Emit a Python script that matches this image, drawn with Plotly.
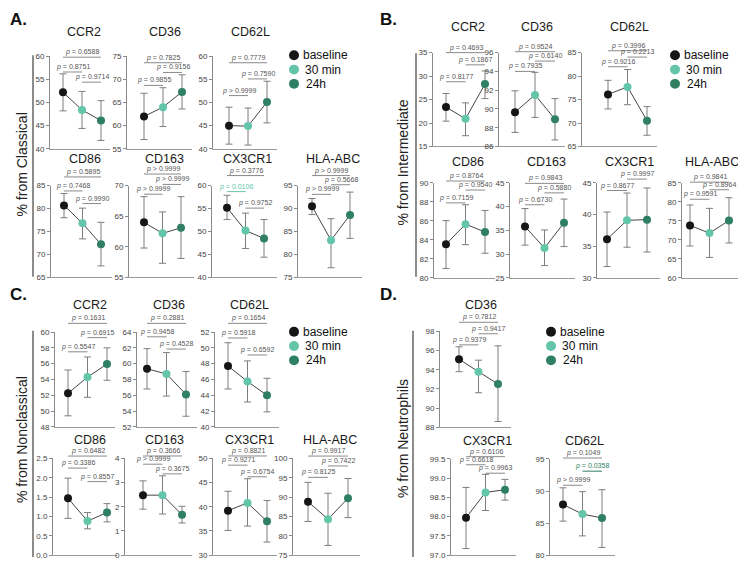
import plotly.graph_objects as go

W, H = 746, 567          # size of the browser window the figure is laid out for
PAD = 8                  # default body margin of the page
FW, FH = W - PAD, H - PAD
FONT = "Liberation Sans, Arial, sans-serif"

TIMEPOINTS = ["baseline", "30 min", "24h"]
POINT_COLORS = ["#161616", "#63c6aa", "#2f7f62"]
PAIRS = [(0, 1), (1, 2), (0, 2)]   # order of the p-value comparisons

# ---------------- data ----------------
# A. classical monocytes
A_MARKERS = ["CCR2", "CD36", "CD62L", "CD86", "CD163", "CX3CR1", "HLA-ABC"]
A_MEAN = [[52.2, 48.4, 46.1], [62.0, 64.0, 67.3], [45.0, 44.9, 50.1],
          [80.7, 76.8, 72.2], [64.0, 62.2, 63.1], [55.2, 50.2, 48.5], [90.5, 83.1, 88.6]]
A_UPPER = [[56.2, 52.4, 50.4], [67.0, 68.2, 71.0], [49.0, 48.8, 54.6],
           [83.3, 80.1, 77.0], [68.2, 65.7, 68.2], [57.9, 54.0, 52.6], [92.2, 87.8, 93.6]]
A_LOWER = [[48.2, 44.4, 41.8], [57.0, 59.8, 63.6], [41.0, 40.8, 45.6],
           [78.0, 73.4, 67.5], [59.8, 57.3, 58.1], [52.6, 46.3, 44.4], [88.7, 77.1, 83.5]]
A_P = [["0.8751", "0.9714", "0.6588"], ["0.9855", "0.9156", "0.7825"], [">0.9999", "0.7590", "0.7779"],
       ["0.7468", "0.9990", "0.5895"], [">0.9999", ">0.9999", ">0.9999"], ["0.0106", "0.9752", "0.3776"],
       [">0.9999", "0.5668", ">0.9999"]]

# B. intermediate monocytes
B_MARKERS = ["CCR2", "CD36", "CD62L", "CD86", "CD163", "CX3CR1", "HLA-ABC"]
B_MEAN = [[23.4, 20.9, 28.3], [89.66, 91.5, 88.9], [76.1, 77.7, 70.5],
          [83.55, 85.66, 84.83], [35.8, 31.3, 36.6], [36.1, 39.1, 39.2], [73.8, 71.8, 75.1]]
B_UPPER = [[26.3, 24.3, 31.1], [91.93, 93.9, 91.1], [79.1, 81.4, 73.5],
           [86.03, 87.7, 87.1], [39.6, 35.1, 41.6], [40.4, 43.4, 44.2], [79.2, 78.3, 81.1]]
B_LOWER = [[20.4, 17.3, 25.2], [87.5, 89.1, 86.7], [73.0, 73.9, 67.4],
           [81.0, 83.5, 82.6], [31.9, 27.6, 31.6], [31.8, 34.85, 34.1], [68.4, 65.4, 69.2]]
B_P = [["0.8177", "0.1867", "0.4693"], ["0.7935", "0.6140", "0.9524"], ["0.9216", "0.2213", "0.3996"],
       ["0.7159", "0.9540", "0.8764"], ["0.6730", "0.5880", "0.9843"], ["0.8677", "0.9997", None],
       ["0.9591", "0.8964", "0.9841"]]

# C. nonclassical monocytes
C_MARKERS = ["CCR2", "CD36", "CD62L", "CD86", "CD163", "CX3CR1", "HLA-ABC"]
C_MEAN = [[52.25, 54.3, 55.95], [59.35, 58.7, 56.1], [47.7, 45.75, 44.0],
          [1.47, 0.88, 1.10], [2.48, 2.48, 1.67], [39.2, 40.8, 37.0], [88.8, 84.3, 89.7]]
C_UPPER = [[55.2, 56.85, 58.0], [61.9, 61.4, 59.0], [50.65, 48.35, 46.15],
           [1.99, 1.10, 1.33], [3.07, 3.28, 2.02], [43.2, 45.8, 41.3], [93.8, 91.0, 94.8]]
C_LOWER = [[49.4, 51.75, 53.9], [56.8, 55.9, 53.35], [44.8, 43.15, 41.9],
           [0.95, 0.68, 0.86], [1.90, 1.70, 1.33], [35.1, 36.0, 32.7], [83.7, 77.5, 84.7]]
C_P = [["0.5547", "0.6915", "0.1631"], ["0.9458", "0.4528", "0.2881"], ["0.5918", "0.6592", "0.1654"],
       ["0.3386", "0.8557", "0.6482"], [">0.9999", "0.3675", "0.3666"], ["0.9271", "0.6754", "0.8821"],
       ["0.8125", "0.7422", "0.9917"]]

# D. neutrophils
D_MARKERS = ["CD36", "CX3CR1", "CD62L"]
D_MEAN = [[95.1, 93.8, 92.5], [97.97, 98.63, 98.70], [87.9, 86.4, 85.8]]
D_UPPER = [[96.4, 95.0, 96.5], [98.76, 99.1, 98.97], [90.5, 89.9, 90.2]]
D_LOWER = [[93.8, 91.6, 88.6], [97.17, 98.16, 98.43], [85.3, 83.0, 81.2]]
D_P = [["0.9379", "0.9417", "0.7812"], ["0.6618", "0.9963", "0.6106"], [">0.9999", "0.0358", "0.1049"]]

# ---------------- layout geometry (window pixels) ----------------
# (y-axis x, first point x, last point x, x-axis end, top px, bottom px, ymin, ymax, dtick, title y)
A_GEOM = [
    (50, 63, 101, 110, 53, 147, 40, 60, 5, 28),
    (127, 144, 182, 192, 53, 147, 55, 75, 5, 28),
    (213, 229, 267, 277, 53, 147, 40, 60, 5, 28),
    (51, 64, 101, 112, 184.5, 277.7, 65, 85, 5, 157.5),
    (129, 144, 181, 194, 184.5, 277.7, 55, 70, 5, 157.5),
    (212, 227, 264, 277, 184.5, 277.7, 40, 60, 5, 157.5),
    (298, 312, 350, 362, 184.5, 277.7, 75, 95, 5, 157.5),
]
B_GEOM = [
    (433, 446, 485, 494, 49.3, 144.7, 15, 35, 5, 23),
    (499, 515, 555, 565, 49.3, 144.7, 86, 96, 2, 23),
    (582, 608, 647, 657, 49.3, 144.7, 65, 85, 5, 23),
    (434, 446, 485, 495, 181.7, 278.3, 80, 90, 2, 160),
    (510, 525, 564, 575, 181.7, 278.3, 25, 45, 5, 160),
    (597, 607, 647, 660, 181.7, 278.3, 30, 45, 5, 160),
    (682, 690, 729, 743, 181.7, 278.3, 60, 85, 5, 160),
]
C_GEOM = [
    (55, 68, 107, 115, 333.3, 429.7, 48, 60, 2, 306),
    (137, 147, 186, 197, 333.3, 429.7, 52, 64, 2, 306),
    (215, 228, 267, 279, 333.3, 429.7, 40, 52, 2, 306),
    (53, 68, 107, 117, 461.7, 560, 0, 2.5, 0.5, 443),
    (125, 143, 182, 192, 461.7, 560, 0, 4, 1, 443),
    (213, 228, 267, 277, 461.7, 560, 30, 50, 5, 443),
    (293, 308, 348, 360, 461.7, 560, 75, 100, 5, 443),
]
D_GEOM = [
    (440, 459, 498, 511, 332.7, 430, 88, 98, 2, 306),
    (451, 466, 505, 516, 462.3, 560, 97, 99.5, 0.5, 444),
    (550, 563, 602, 615, 462.3, 560, 80, 95, 5, 444),
]
# height (data units) of the bracket lines, same order as PAIRS
A_BRACKET_Y = [[56.6, 54.4, 59.8], [68.7, 71.5, 73.6], [51.5, 55.1, 58.6], [83.85, 81.1, 86.9],
               [68.6, 70.2, 71.9], [58.7, 55.1, 62.2], [93.1, 95.2, 97.2]]
B_BRACKET_Y = [[28.8, 32.4, 35.0], [94.0, 95.1, 96.1], [82.0, 84.05, 85.4], [87.9, 89.25, 90.2],
               [40.4, 42.9, 44.9], [43.8, 45.6, None], [80.7, 83.2, 85.2]]
C_BRACKET_Y = [[57.5, 59.3, 61.1], [63.4, 61.85, 65.1], [51.25, 49.1, 53.1], [2.25, 1.90, 2.56],
               [3.76, 3.36, 4.1], [48.6, 46.2, 50.5], [95.1, 98.05, 100.6]]
D_BRACKET_Y = [[96.6, 97.76, 98.96], [99.35, 99.13, 99.56], [90.9, 93.1, 95.15]]

PANELS = [
    dict(label="A.", ytitle="% from Classical", markers=A_MARKERS, mean=A_MEAN, up=A_UPPER, low=A_LOWER,
         p=A_P, geom=A_GEOM, by=A_BRACKET_Y, lab_xy=(8, 16), title_xy=(22, 163), vline=(33, 52, 277),
         legend=(294, 52)),
    dict(label="B.", ytitle="% from Intermediate", markers=B_MARKERS, mean=B_MEAN, up=B_UPPER, low=B_LOWER,
         p=B_P, geom=B_GEOM, by=B_BRACKET_Y, lab_xy=(378, 16), title_xy=(403, 161), vline=(416, 50, 277),
         legend=(675, 52)),
    dict(label="C.", ytitle="% from Nonclassical", markers=C_MARKERS, mean=C_MEAN, up=C_UPPER, low=C_LOWER,
         p=C_P, geom=C_GEOM, by=C_BRACKET_Y, lab_xy=(8, 295), title_xy=(22, 443), vline=(33, 332, 562),
         legend=(294, 333)),
    dict(label="D.", ytitle="% from Neutrophils", markers=D_MARKERS, mean=D_MEAN, up=D_UPPER, low=D_LOWER,
         p=D_P, geom=D_GEOM, by=D_BRACKET_Y, lab_xy=(378, 295), title_xy=(403, 442), vline=(413, 332, 562),
         legend=(551, 333)),
]


def px(x):
    return (x - PAD) / FW


def py(y):
    return 1 - (y - PAD) / FH


fig = go.Figure()
shapes, annotations = [], []
n = 0

for panel in PANELS:
    for k, name in enumerate(panel["markers"]):
        n += 1
        sfx = "" if n == 1 else str(n)
        ax_px, p0, p2, xend, ytop, ybot, ymin, ymax, dtick, title_y = panel["geom"][k]
        sp = (p2 - p0) / 2
        xmin = -(p0 - ax_px) / sp
        xmax = 2 + (xend - p2) / sp

        mean = panel["mean"][k]
        up = [u - m for u, m in zip(panel["up"][k], mean)]
        lo = [m - l for m, l in zip(mean, panel["low"][k])]

        fig.add_trace(go.Scatter(
            x=[0, 1, 2], y=mean, xaxis="x" + sfx, yaxis="y" + sfx,
            mode="lines+markers", showlegend=False,
            line=dict(color="#454545", width=1),
            marker=dict(color=POINT_COLORS, size=8),
            error_y=dict(type="data", symmetric=False, array=up, arrayminus=lo,
                         color="#7d7d7d", thickness=1, width=3.5),
        ))

        fig.layout["xaxis" + sfx] = dict(
            domain=[px(ax_px), px(xend)], range=[xmin, xmax], anchor="y" + sfx,
            showline=True, linecolor="#9a9a9a", linewidth=1, showgrid=False,
            zeroline=False, showticklabels=False, ticks="",
        )
        fig.layout["yaxis" + sfx] = dict(
            domain=[py(ybot), py(ytop)], range=[ymin, ymax], anchor="x" + sfx,
            showline=True, linecolor="#8a8a8a", linewidth=1, showgrid=False, zeroline=False,
            ticks="outside", ticklen=3, tickwidth=1, tickcolor="#8a8a8a",
            tick0=ymin, dtick=dtick, tickformat=".1f" if dtick == 0.5 else "",
            tickfont=dict(size=8, color="#444", family=FONT),
        )

        # marker title
        annotations.append(dict(
            text=name, xref="x" + sfx, x=1, xshift=2, yref="paper", y=py(title_y),
            showarrow=False, font=dict(size=12.5, color="#1a1a1a", family=FONT),
            xanchor="center", yanchor="middle",
        ))

        # p-value brackets
        xr = "x" + sfx + " domain"
        yr = "y" + sfx + " domain"
        for (i, j), pv, level in zip(PAIRS, panel["p"][k], panel["by"][k]):
            if pv is None:
                continue
            fx0 = (i - xmin) / (xmax - xmin)
            fx1 = (j - xmin) / (xmax - xmin)
            fy = (level - ymin) / (ymax - ymin)
            sig = not pv.startswith(">") and float(pv) < 0.05
            col = POINT_COLORS[j] if sig else "#555"
            shapes.append(dict(type="line", xref=xr, yref=yr, x0=fx0, x1=fx1, y0=fy, y1=fy,
                               line=dict(color="#8a8a8a" if not sig else col, width=1)))
            txt = "<i>p</i> &gt; " + pv[1:] if pv.startswith(">") else "<i>p</i> = " + pv
            annotations.append(dict(
                text=txt, xref=xr, yref=yr, x=(fx0 + fx1) / 2, y=fy, showarrow=False,
                xanchor="center", yanchor="bottom", yshift=-1,
                font=dict(size=7, color=col, family=FONT),
            ))

    # panel letter
    lx, ly = panel["lab_xy"]
    annotations.append(dict(
        text="<b>" + panel["label"] + "</b>", xref="paper", yref="paper",
        x=px(lx), y=py(ly), showarrow=False, xanchor="left", yanchor="middle",
        font=dict(size=17, color="#111", family=FONT),
    ))
    # y title and its bar
    tx, ty = panel["title_xy"]
    annotations.append(dict(
        text=panel["ytitle"], xref="paper", yref="paper", x=px(tx), y=py(ty),
        showarrow=False, textangle=-90, xanchor="center", yanchor="middle",
        font=dict(size=14, color="#222", family=FONT),
    ))
    vx, vy0, vy1 = panel["vline"]
    shapes.append(dict(type="line", xref="paper", yref="paper", x0=px(vx), x1=px(vx),
                       y0=py(vy0), y1=py(vy1), line=dict(color="#666", width=1.5)))

    # legend
    gx, gy = panel["legend"]
    for t, (label, col) in enumerate(zip(TIMEPOINTS, POINT_COLORS)):
        cy = gy + t * 14.5
        r = 5
        shapes.append(dict(type="circle", xref="paper", yref="paper",
                           x0=px(gx - r), x1=px(gx + r), y0=py(cy + r), y1=py(cy - r),
                           fillcolor=col, line=dict(width=0)))
        annotations.append(dict(
            text=label, xref="paper", yref="paper", x=px(gx + 7 + 1.5 * t), y=py(cy),
            showarrow=False, xanchor="left", yanchor="middle",
            font=dict(size=12, color="#111", family=FONT),
        ))

fig.update_layout(
    width=FW, height=FH,
    margin=dict(l=0, r=0, t=0, b=0),
    paper_bgcolor="white", plot_bgcolor="white",
    showlegend=False, shapes=shapes, annotations=annotations,
    font=dict(family=FONT),
)

fig.write_html("out.html")
